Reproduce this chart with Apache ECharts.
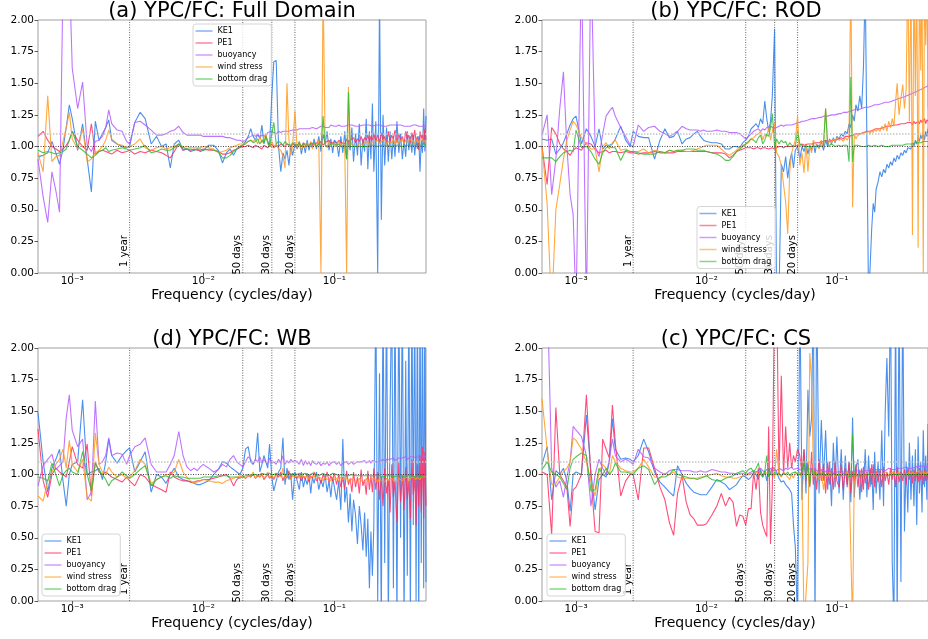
<!DOCTYPE html>
<html><head><meta charset="utf-8">
<script src="https://cdn.jsdelivr.net/npm/echarts@6/dist/echarts.min.js"></script>
<style>html,body{margin:0;padding:0;background:#fff}#c{width:928px;height:639px}</style>
</head><body><div id="c"></div>
<script>
// Frequency grid (cycles/day)
const freq = [0.000548,0.0006,0.00065,0.0007,0.00075,0.0008,0.00085,0.0009,0.00095,0.001,0.0011,0.0012,0.0013,0.0014,0.0015,0.0016,0.0017,0.0018,0.0019,0.002,0.0022,0.0024,0.0026,0.00274,
0.003,0.0033,0.0036,0.004,0.0044,0.0048,0.0052,0.0056,0.006,0.0065,0.007,0.0075,0.008,0.0085,0.009,0.0095,0.01,0.011,0.012,0.013,0.014,0.015,0.016,0.017,0.018,0.019,0.02,
0.021,0.022,0.023,0.024,0.025,0.026,0.027,0.028,0.029,0.03,0.031,0.032,0.0333,0.0345,0.036,0.0375,0.039,0.0405,0.042,0.0435,0.045,0.0465,0.048,0.05,
0.052,0.054,0.056,0.058,0.06,0.062,0.064,0.066,0.068,0.07,0.073,0.076,0.079,0.082,0.085,0.088,0.091,0.094,0.097,0.1,
0.104,0.108,0.112,0.116,0.12,0.124,0.128,0.132,0.136,0.14,0.145,0.15,0.155,0.16,0.165,0.17,0.175,0.18,0.185,0.19,0.195,0.2,
0.207,0.214,0.221,0.228,0.235,0.242,0.25,0.258,0.266,0.274,0.282,0.29,0.3,0.31,0.32,0.33,0.34,0.35,0.36,0.37,0.38,0.39,0.4,0.41,0.42,0.43,0.44,0.45,0.46,0.47,0.48,0.49,0.5];

const seriesNames = ['KE1','PE1','buoyancy','wind stress','bottom drag'];
const periodDays = [365, 50, 30, 20];
const periodLabels = ['1 year','50 days','30 days','20 days'];
const periodLabelLevel = 0.3;   // y value where the period labels end

// ---- (a) Full Domain ----
const keA = [0.92,0.93,0.95,1.04,0.95,0.86,0.98,1.15,1.33,1.22,0.97,1.18,0.90,0.64,1.20,1.05,1.10,1.15,1.21,1.05,1.02,1.00,0.99,1.00,
1.19,1.27,1.22,1.02,1.08,1.00,1.02,0.83,1.02,1.05,0.97,0.98,0.96,0.97,0.98,0.96,0.97,1.01,1.01,0.97,0.87,0.95,0.98,0.93,0.98,1.00,1.01,
1.04,1.08,1.14,1.08,1.05,1.10,1.06,1.17,1.02,1.08,1.04,1.00,1.40,1.67,1.68,1.00,0.80,0.95,0.90,0.97,0.85,1.00,0.93,1.02,
0.98,1.04,0.94,1.02,0.95,1.05,0.97,1.03,0.99,1.06,0.98,1.08,0.96,1.10,1.02,1.12,0.97,1.06,0.95,1.05,
1.03,0.92,1.08,0.95,1.12,0.90,1.05,0.97,1.15,0.88,1.10,0.93,1.18,0.85,1.06,0.96,1.22,0.82,1.12,0.90,1.34,0.80,
1.20,0.0,2.2,0.42,1.25,0.85,1.15,0.88,1.12,0.90,1.08,0.92,1.20,0.95,1.10,0.90,1.05,0.92,1.12,0.97,1.08,0.95,1.10,0.93,1.05,0.98,1.08,0.80,1.05,0.95,1.30,0.96,1.24];
const peA = [1.08,1.12,1.05,1.00,0.98,0.96,0.98,1.01,1.05,1.12,1.05,1.00,0.97,1.18,0.94,0.96,0.97,0.96,0.95,0.94,0.97,0.95,0.96,0.97,
0.94,0.96,0.95,0.97,0.96,0.95,0.93,0.91,0.96,1.02,0.97,0.98,0.97,0.98,0.97,0.97,0.98,0.97,0.97,0.96,0.94,0.94,0.95,0.97,0.98,0.99,1.00,
1.00,1.01,1.00,0.99,1.01,1.00,0.99,0.98,1.01,1.00,0.99,1.00,1.02,0.99,1.01,1.00,1.02,1.01,1.00,1.02,1.01,1.00,1.02,1.01,
1.01,1.02,1.00,1.03,1.01,1.02,1.00,1.03,1.02,1.01,1.03,1.02,1.04,1.01,1.03,1.02,1.05,1.02,1.03,1.04,
1.02,1.05,1.03,1.04,1.02,1.06,1.03,1.05,1.04,1.07,1.03,1.06,1.04,1.08,1.03,1.07,1.05,1.09,1.04,1.08,1.05,1.10,
1.04,1.09,1.03,1.11,1.05,1.08,1.02,1.12,1.04,1.09,1.06,1.13,1.03,1.10,1.05,1.08,1.02,1.12,1.06,1.09,1.03,1.11,1.05,1.13,1.04,1.08,0.97,1.12,1.06,1.10,1.02,1.14,1.05];
const buoyA = [0.90,0.60,0.40,0.80,0.65,0.48,2.3,2.5,2.4,1.62,1.30,1.51,1.01,0.96,1.04,1.05,1.08,1.15,1.29,1.18,1.13,1.12,1.04,1.02,
1.19,1.20,1.17,1.13,1.09,1.09,1.10,1.12,1.13,1.16,1.11,1.09,1.09,1.09,1.09,1.09,1.08,1.08,1.08,1.08,1.08,1.07,1.07,1.06,1.05,1.05,1.04,
1.05,1.07,1.08,1.09,1.08,1.10,1.07,1.09,1.10,1.08,1.11,1.10,1.12,1.11,1.10,1.12,1.11,1.12,1.12,1.13,1.12,1.13,1.13,1.13,
1.13,1.14,1.14,1.13,1.14,1.15,1.14,1.15,1.15,1.16,1.14,1.15,1.16,1.16,1.15,1.16,1.15,1.17,1.16,1.16,
1.16,1.17,1.16,1.17,1.16,1.16,1.17,1.16,1.17,1.17,1.16,1.17,1.16,1.17,1.17,1.16,1.17,1.16,1.17,1.17,1.16,1.17,
1.17,1.16,1.17,1.17,1.16,1.17,1.16,1.17,1.17,1.16,1.17,1.16,1.17,1.16,1.17,1.17,1.16,1.17,1.16,1.17,1.16,1.16,1.17,1.16,1.17,1.16,1.16,1.17,1.16,1.17,1.16,1.17,1.16];
const windA = [0.95,0.80,1.40,0.88,0.92,0.93,1.04,1.15,1.27,1.06,0.98,1.14,0.88,0.90,0.95,0.97,1.00,1.05,1.13,1.06,1.02,1.01,0.99,1.00,
1.02,1.06,0.99,0.97,0.99,1.00,0.98,0.99,1.00,1.02,0.99,1.00,0.99,0.99,0.99,0.99,1.00,0.99,0.98,0.95,0.96,0.97,0.99,1.00,1.01,1.02,1.02,
1.03,1.04,1.05,1.04,1.06,1.02,1.08,1.03,1.07,1.10,1.02,1.00,1.04,1.00,1.02,0.98,0.97,0.92,0.83,1.50,1.05,0.93,1.00,1.28,
0.98,1.04,0.97,1.02,0.99,1.03,1.00,1.04,0.98,1.02,1.00,1.05,0.0,2.3,1.02,0.99,1.04,1.01,1.03,1.00,
1.02,1.04,1.01,1.03,1.00,0.0,1.47,1.00,1.03,1.01,1.02,1.00,1.03,1.02,1.01,1.03,1.02,1.04,1.01,1.03,1.02,1.04,
1.03,1.05,1.02,1.04,1.03,1.06,1.02,1.04,1.05,1.03,1.06,1.02,1.05,1.03,1.04,1.06,1.02,1.05,1.03,1.04,1.06,1.03,1.05,1.02,1.04,1.06,1.03,1.05,1.04,1.07,1.03,1.05,1.04];
const dragA = [0.97,0.95,0.96,0.95,0.94,0.95,0.96,0.98,1.05,1.12,1.00,0.97,0.94,0.91,0.93,0.96,0.97,0.99,0.96,0.97,0.98,0.99,0.98,0.97,
0.98,0.99,1.01,0.95,0.96,0.98,0.97,0.97,0.99,1.02,0.99,0.98,0.98,0.97,0.98,0.98,0.97,0.98,0.97,0.96,0.91,0.91,0.93,0.96,0.98,1.00,1.01,
1.02,1.04,1.05,1.03,1.04,1.06,1.02,1.05,1.03,1.08,1.04,1.00,1.10,1.19,1.02,1.04,1.03,1.01,1.04,1.02,1.03,1.01,1.03,1.02,
1.01,1.03,1.00,1.02,1.01,1.02,1.00,1.02,1.01,1.03,1.00,1.02,1.00,1.24,1.01,1.02,1.00,1.02,1.01,1.02,
1.01,1.02,1.00,1.01,1.01,0.90,1.43,1.00,1.01,1.00,1.01,1.00,1.01,1.00,1.01,1.00,1.01,1.00,1.00,1.01,1.00,1.01,
1.01,1.00,1.01,1.01,1.00,1.01,1.00,1.01,1.02,1.00,1.01,1.01,1.00,1.01,1.02,1.00,1.01,1.01,1.00,1.01,1.02,1.01,1.00,1.01,1.02,1.01,1.00,1.01,1.02,1.01,1.01,1.02,1.01];

// ---- (b) ROD ----
const keB = [1.06,1.05,1.06,0.94,0.98,1.03,1.10,1.17,1.22,1.24,1.02,1.14,1.08,1.00,1.14,0.98,1.01,1.01,1.02,1.06,1.16,1.05,1.00,1.12,
1.08,1.07,1.07,0.90,1.05,1.14,1.07,1.08,1.12,1.02,1.06,1.07,1.10,1.12,1.08,1.05,1.04,1.03,1.03,1.02,0.98,0.98,1.00,1.00,0.99,1.03,1.05,
1.08,1.14,1.16,1.18,1.15,1.22,1.18,1.36,1.22,1.12,1.20,1.40,1.93,-0.2,-0.2,0.86,0.80,0.92,0.75,0.88,0.95,0.83,0.97,1.00,
0.90,1.00,0.96,1.02,0.94,1.01,0.97,1.03,0.95,1.02,0.99,1.04,0.97,1.05,1.00,1.06,1.02,1.07,1.03,1.08,
1.06,1.10,1.08,1.12,1.10,1.18,1.15,1.25,1.20,1.33,1.28,1.40,1.30,1.63,2.3,2.3,-0.2,0.05,0.35,0.55,0.48,0.66,
0.72,0.80,0.76,0.82,0.79,0.86,0.83,0.88,0.85,0.91,0.88,0.93,0.90,0.95,0.93,0.97,0.95,0.99,1.00,0.98,1.03,1.00,1.05,1.02,1.07,1.04,1.09,1.06,1.11,1.05,1.12,1.08,1.14];
const peB = [1.00,0.70,1.15,1.10,1.02,0.98,0.96,0.93,0.97,0.99,0.97,1.03,1.02,0.98,0.95,0.96,0.97,0.95,0.96,0.96,0.95,0.96,0.95,0.95,
0.94,0.95,0.95,0.96,0.95,0.95,0.95,0.95,0.96,0.96,0.96,0.96,0.96,0.96,0.96,0.96,0.96,0.95,0.95,0.95,0.94,0.91,0.93,0.96,0.97,0.98,0.99,
0.99,0.99,0.98,0.99,0.99,0.98,0.99,0.99,0.98,0.98,0.99,0.99,0.98,0.99,1.00,1.00,0.99,1.00,1.00,1.01,1.00,1.01,1.00,1.01,
1.01,1.02,1.01,1.02,1.02,1.03,1.02,1.03,1.03,1.04,1.03,1.04,1.04,1.05,1.04,1.05,1.05,1.06,1.05,1.06,
1.06,1.07,1.06,1.08,1.07,1.08,1.08,1.09,1.08,1.10,1.09,1.10,1.10,1.11,1.10,1.12,1.11,1.12,1.12,1.13,1.12,1.14,
1.13,1.14,1.14,1.15,1.14,1.16,1.15,1.16,1.16,1.17,1.16,1.17,1.17,1.18,1.17,1.18,1.18,1.19,1.18,1.19,1.17,1.20,1.18,1.19,1.20,1.18,1.21,1.19,1.20,1.22,1.18,1.21,1.20];
const buoyB = [1.09,1.25,0.62,0.90,1.30,1.59,1.00,0.62,0.46,-0.3,2.5,-0.3,2.5,1.00,0.92,1.10,1.24,1.28,1.31,1.24,1.15,1.08,1.01,1.00,
1.17,1.12,1.15,1.16,1.12,1.10,1.08,1.10,1.12,1.16,1.14,1.13,1.13,1.13,1.12,1.13,1.12,1.12,1.13,1.12,1.12,1.11,1.11,1.11,1.10,1.08,1.06,
1.08,1.10,1.12,1.13,1.14,1.12,1.14,1.13,1.15,1.14,1.16,1.15,1.14,1.15,1.16,1.17,1.16,1.17,1.17,1.18,1.17,1.18,1.18,1.19,
1.19,1.20,1.20,1.21,1.21,1.21,1.22,1.22,1.22,1.23,1.23,1.23,1.24,1.24,1.24,1.25,1.25,1.25,1.25,1.26,
1.26,1.26,1.27,1.27,1.27,1.28,1.28,1.28,1.29,1.29,1.29,1.30,1.30,1.30,1.31,1.31,1.31,1.32,1.32,1.32,1.33,1.33,
1.33,1.34,1.34,1.34,1.35,1.35,1.35,1.36,1.36,1.36,1.37,1.37,1.38,1.38,1.39,1.39,1.40,1.40,1.41,1.41,1.42,1.42,1.43,1.43,1.44,1.44,1.45,1.45,1.46,1.46,1.47,1.47,1.48];
const windB = [1.00,0.55,-0.3,0.50,0.70,0.90,1.05,1.13,1.20,1.17,1.07,1.02,0.98,0.98,0.80,1.00,1.03,0.98,1.03,1.05,0.97,0.98,0.96,0.96,
0.96,0.98,0.95,0.97,0.96,0.95,0.97,0.96,0.97,0.97,0.96,0.96,0.97,0.98,0.99,1.00,1.01,1.01,1.01,0.98,0.95,0.93,0.95,0.97,1.00,1.01,1.02,
1.03,1.06,1.07,1.09,1.10,1.12,1.05,1.10,1.08,1.15,1.05,1.12,1.19,0.95,0.92,0.85,0.70,0.56,0.31,0.80,0.95,1.00,1.05,1.24,
0.85,0.95,0.79,1.02,0.80,1.00,0.95,1.05,1.03,1.02,0.98,1.05,1.00,1.30,1.02,1.05,1.03,1.06,1.04,1.07,
1.05,1.06,1.04,1.07,1.05,1.08,2.4,0.52,1.10,1.06,1.09,1.08,1.10,1.09,1.11,1.10,1.12,1.10,1.13,1.11,1.14,1.12,
1.14,1.12,1.16,1.13,1.18,1.12,1.20,1.15,1.22,1.16,1.35,1.50,1.25,1.38,1.49,1.30,1.45,2.4,1.2,2.4,0.3,2.4,1.4,2.4,0.2,2.4,1.6,2.4,0.0,2.4,1.8,2.4,1.3];
const dragB = [0.91,0.91,0.91,0.88,0.92,0.95,0.96,0.97,0.96,1.13,0.99,1.00,0.96,0.90,0.86,0.95,0.99,1.00,0.99,0.99,0.89,0.97,0.96,0.96,
0.95,0.94,0.94,0.94,0.96,0.95,0.97,0.96,0.97,0.97,0.98,0.98,0.98,0.97,0.97,0.97,0.96,0.95,0.94,0.92,0.89,0.89,0.92,0.96,0.98,1.00,1.02,
1.04,1.06,1.05,1.03,1.07,1.09,1.02,1.05,1.10,1.08,1.15,1.26,1.00,1.06,1.02,1.05,1.03,1.04,1.00,1.03,1.01,1.02,1.00,1.12,
1.02,1.01,1.00,1.01,1.00,1.01,1.00,1.01,1.00,1.00,1.01,1.00,1.01,1.30,1.00,1.01,1.02,1.01,1.00,1.01,
1.01,1.00,1.01,1.00,1.01,0.88,1.55,0.88,1.01,1.00,1.01,1.00,1.00,1.01,1.00,1.00,1.01,1.00,1.00,1.00,1.01,1.00,
1.00,1.00,1.01,1.00,1.00,1.01,1.00,1.01,1.01,1.00,1.01,1.01,1.01,1.02,1.01,1.01,1.02,1.01,1.02,1.02,1.02,1.02,1.03,1.02,1.03,1.03,1.03,1.03,1.04,1.03,1.04,1.04,1.04];

// ---- (d) WB ----
const keD = [1.49,1.10,0.86,1.05,1.12,1.20,0.95,0.75,1.00,1.08,1.10,1.59,1.00,1.02,1.03,1.05,0.96,1.10,1.28,1.15,1.09,1.15,1.19,1.21,
1.02,1.10,1.18,0.86,1.00,0.98,0.93,1.00,1.05,0.98,0.96,0.95,0.94,0.93,0.92,0.92,0.93,0.95,1.00,1.04,1.10,1.09,1.06,1.04,1.02,1.00,1.05,
1.20,1.22,1.10,1.08,1.12,1.33,1.02,1.08,1.15,1.10,1.05,1.24,0.98,0.87,0.95,1.02,1.05,1.29,0.92,1.05,0.96,1.00,0.80,1.02,
0.95,0.88,1.02,0.90,0.97,0.92,1.00,0.85,0.98,0.93,1.02,0.88,0.96,0.90,1.00,0.86,0.95,0.82,0.98,0.90,
0.80,0.95,0.72,1.28,0.78,0.90,0.62,0.85,0.55,0.80,0.68,0.45,0.75,0.60,0.40,0.70,0.35,0.65,0.10,0.55,0.20,0.60,
2.5,0.0,1.8,-0.2,2.5,0.3,2.5,-0.2,1.5,2.5,0.1,2.5,-0.2,2.5,0.5,2.5,-0.2,1.9,0.2,2.5,-0.2,2.5,0.6,2.5,0.0,2.5,-0.2,2.5,0.3,2.5,0.1,2.5,0.15];
const peD = [1.36,0.95,0.82,1.00,1.05,1.02,1.00,0.98,1.10,1.22,1.08,1.05,1.24,0.83,1.10,1.02,1.00,1.02,1.00,0.98,0.96,0.94,0.98,0.95,
0.91,1.00,0.98,0.92,0.90,0.88,0.86,1.02,0.98,0.96,0.95,0.95,0.94,0.94,0.95,0.95,0.96,0.96,0.97,0.98,0.99,1.00,0.97,0.91,0.96,0.98,0.99,
0.97,0.99,0.98,1.00,0.97,0.99,0.98,1.00,0.96,0.98,1.00,0.97,0.99,0.96,1.01,0.98,1.02,0.95,1.00,0.97,1.03,0.96,1.01,0.98,
0.97,1.00,0.95,0.99,0.96,1.01,0.94,0.99,0.97,1.02,0.95,0.98,0.93,1.00,0.96,1.02,0.94,0.99,0.95,1.01,
0.92,1.00,0.90,0.98,0.88,1.03,0.92,0.97,0.86,1.02,0.90,0.98,0.85,1.04,0.91,0.96,0.84,1.03,0.88,0.99,0.86,1.05,
0.88,1.02,0.80,0.98,0.75,1.05,0.85,0.96,0.70,1.08,0.82,0.95,0.62,1.10,0.78,1.00,0.72,1.06,0.80,0.95,0.65,1.12,0.84,0.98,0.60,1.08,0.75,1.15,0.70,1.22,0.65,1.18,0.75];
const buoyD = [0.91,1.07,1.12,1.16,1.04,1.07,1.10,1.45,1.63,1.35,1.22,1.28,0.80,0.86,1.58,1.08,1.10,1.15,1.29,1.15,1.17,1.16,1.08,1.15,
1.22,1.24,1.29,1.08,1.02,1.02,1.02,1.08,1.15,1.34,1.15,1.06,1.03,1.05,1.03,1.06,1.08,1.05,1.02,1.04,1.08,1.06,1.12,1.15,1.10,1.08,1.06,
1.10,1.14,1.12,1.08,1.12,1.10,1.14,1.09,1.12,1.10,1.08,1.13,1.09,1.10,1.08,1.12,1.09,1.15,1.08,1.11,1.09,1.12,1.10,1.11,
1.10,1.08,1.12,1.07,1.11,1.08,1.10,1.07,1.11,1.09,1.08,1.10,1.07,1.09,1.08,1.10,1.07,1.09,1.08,1.10,
1.08,1.10,1.07,1.09,1.08,1.10,1.08,1.09,1.10,1.08,1.09,1.10,1.09,1.10,1.09,1.11,1.09,1.10,1.11,1.09,1.11,1.10,
1.10,1.11,1.10,1.11,1.12,1.10,1.12,1.11,1.12,1.11,1.13,1.11,1.12,1.13,1.12,1.13,1.12,1.14,1.12,1.13,1.14,1.13,1.14,1.15,1.13,1.14,1.15,1.14,1.15,1.16,1.14,1.15,1.14];
const windD = [0.83,0.79,0.95,1.02,1.08,1.12,1.20,1.05,1.27,1.08,1.02,1.12,0.82,0.79,1.33,1.08,1.02,1.00,1.06,1.02,0.98,1.00,0.97,0.98,
1.03,1.12,1.08,0.93,0.96,0.98,1.00,1.00,1.02,1.12,1.02,0.98,0.95,0.93,0.94,0.95,0.96,0.95,0.94,0.94,0.93,0.95,0.96,0.97,0.98,0.99,0.98,
0.97,0.99,0.98,1.02,0.97,1.00,0.98,1.01,0.97,0.99,1.02,0.98,1.00,0.97,0.99,1.01,0.98,1.05,0.97,0.99,1.01,0.96,0.99,0.98,
0.99,0.97,1.00,0.98,0.97,0.99,0.96,0.98,0.97,0.99,0.96,0.98,0.97,0.95,0.98,0.96,0.97,0.95,0.98,0.96,
0.97,0.95,0.98,0.96,0.95,0.97,0.96,0.94,0.97,0.95,0.96,0.94,0.97,0.95,0.96,0.94,0.97,0.95,0.94,0.96,0.95,0.97,
0.96,0.94,0.97,0.95,0.96,0.94,0.97,0.95,0.96,0.97,0.95,0.96,0.94,0.97,0.96,0.95,0.97,0.96,0.98,0.95,0.97,0.96,0.98,0.97,0.96,0.98,0.97,0.96,0.98,0.97,0.98,0.97,0.98];
const dragD = [0.98,0.97,0.95,1.09,1.00,0.91,1.00,1.03,1.05,1.02,1.00,1.18,1.00,0.87,1.09,1.03,1.00,0.96,0.91,0.95,0.98,1.02,0.99,0.97,
1.00,1.04,1.07,0.91,0.96,0.98,0.99,0.97,0.99,0.98,0.98,0.97,0.97,0.97,0.97,0.97,0.98,0.98,0.98,0.99,0.99,0.99,0.98,0.98,0.98,0.97,0.98,
0.99,1.00,0.99,1.00,1.00,0.99,1.00,1.01,1.00,1.00,0.99,1.01,1.00,1.00,1.01,1.00,0.99,1.01,1.00,1.00,1.01,1.00,1.00,1.01,
1.00,1.01,1.00,1.00,1.01,1.00,0.99,1.00,1.01,1.00,1.00,0.99,1.00,1.01,1.00,1.00,0.99,1.00,1.01,1.00,
1.00,0.99,1.00,1.00,0.99,1.00,0.99,0.99,1.00,0.99,0.99,0.99,0.99,0.99,0.99,0.99,0.99,0.99,0.99,0.99,0.99,0.99,
0.99,0.98,0.99,0.99,0.98,0.99,0.99,0.98,0.99,0.99,0.98,0.99,0.99,0.98,0.99,0.99,0.98,0.99,0.99,0.98,0.99,0.99,0.98,0.99,0.99,0.98,0.99,0.99,0.98,0.99,0.99,0.98,0.99];

// ---- (c) CS ----
const keC = [1.08,1.22,0.80,1.03,1.00,1.05,0.95,0.71,1.00,1.02,1.00,1.47,1.02,0.72,0.96,1.00,0.98,1.10,1.44,1.20,1.12,1.13,1.12,1.10,
1.15,1.28,1.18,1.02,0.94,0.90,0.86,0.83,1.07,1.00,0.93,0.89,0.86,0.85,0.84,0.84,0.84,0.90,0.96,0.94,0.92,0.88,0.90,0.92,0.96,0.99,0.98,
0.96,0.98,1.02,1.00,0.96,1.04,0.98,1.03,0.95,1.05,1.00,1.06,1.04,1.02,0.97,0.94,0.95,0.92,0.90,0.88,0.85,0.60,0.43,-0.2,
2.5,0.80,1.20,0.85,1.67,1.30,1.45,2.5,-0.2,2.5,0.85,1.43,0.95,1.35,0.88,1.10,0.75,1.25,0.90,1.30,
0.85,1.20,0.80,1.15,0.90,1.10,0.78,1.45,0.82,1.05,1.12,0.80,1.05,0.88,1.20,0.82,1.15,0.90,1.08,0.72,1.18,0.85,
1.10,0.80,1.35,0.75,1.50,1.92,1.30,2.5,0.30,-0.2,2.5,-0.2,2.5,0.15,2.5,0.55,1.10,0.70,1.25,0.80,1.15,0.75,1.20,0.60,1.30,0.85,1.10,0.70,1.35,0.90,1.15,0.80,1.40];
const peC = [1.02,1.00,0.52,1.53,1.00,0.95,0.90,0.59,0.88,0.90,1.00,1.63,0.98,0.55,0.54,1.28,1.20,1.13,1.55,1.25,0.83,0.95,1.00,1.00,
0.80,1.21,1.21,1.05,0.90,0.80,0.62,0.52,0.85,0.99,0.78,0.68,0.65,0.60,0.60,0.60,0.61,0.68,0.75,0.85,0.75,0.82,0.78,0.59,0.68,0.67,0.60,
0.73,0.73,1.02,0.88,1.05,0.70,0.60,0.55,0.51,1.38,0.45,0.90,2.5,2.5,1.00,1.78,1.00,1.38,1.05,1.25,1.05,1.15,1.10,1.20,
1.15,1.00,1.20,0.95,1.10,0.90,1.18,0.92,1.05,0.88,1.12,0.95,1.08,0.85,1.10,0.92,1.05,0.88,1.10,0.95,
0.90,1.08,0.88,1.05,0.92,1.10,0.85,1.02,0.95,1.08,0.90,1.04,0.86,1.06,0.93,1.02,0.88,1.05,0.92,1.08,0.90,1.03,
0.94,1.04,0.90,1.06,0.95,1.02,0.92,1.05,0.96,1.03,0.90,1.06,0.94,1.02,0.95,1.04,0.92,1.05,0.96,1.03,0.93,1.04,0.95,1.02,0.94,1.05,0.96,1.03,0.92,1.04,0.95,1.02,0.96];
const buoyC = [2.5,2.5,1.05,0.90,0.95,0.82,0.98,1.10,1.38,1.35,1.30,1.15,0.75,1.00,1.12,1.05,1.00,1.12,1.28,1.15,1.10,1.12,1.10,1.08,
1.20,1.14,1.13,1.05,1.02,1.00,1.03,1.04,1.04,1.03,1.03,1.03,1.02,1.02,1.03,1.02,1.02,1.04,1.03,1.02,1.02,1.01,1.01,1.00,1.01,1.01,1.00,
1.01,1.02,1.03,1.02,1.03,1.05,1.03,1.02,1.04,1.03,1.05,1.02,1.04,1.03,1.05,1.04,1.03,1.05,1.04,1.03,1.06,1.04,1.03,1.05,
1.04,1.03,1.05,1.02,1.04,1.03,1.05,1.02,1.04,1.03,1.02,1.04,1.03,1.02,1.04,1.03,1.02,1.03,1.02,1.03,
1.02,1.03,1.02,1.03,1.02,1.03,1.02,1.03,1.03,1.02,1.03,1.03,1.02,1.03,1.03,1.04,1.03,1.03,1.04,1.03,1.04,1.04,
1.04,1.03,1.04,1.04,1.03,1.04,1.05,1.04,1.04,1.05,1.04,1.05,1.05,1.04,1.05,1.05,1.06,1.05,1.05,1.06,1.05,1.06,1.06,1.05,1.06,1.06,1.07,1.06,1.06,1.07,1.06,1.07,1.07];
const windC = [1.60,1.20,0.92,0.93,0.98,1.02,1.05,1.10,1.29,1.27,1.20,1.10,0.95,0.83,1.02,1.08,1.05,1.00,1.15,1.10,1.05,1.03,1.02,1.02,
1.05,1.12,1.06,0.98,0.97,1.01,1.00,1.02,0.98,0.97,0.97,0.97,0.97,0.97,0.98,0.98,0.99,1.00,1.01,0.99,0.98,0.98,0.97,0.97,0.98,0.99,0.99,
1.00,1.01,1.00,1.02,1.00,1.01,1.00,1.02,1.01,1.00,1.03,1.02,0.98,1.20,1.00,0.98,1.02,1.00,0.98,0.96,1.00,0.97,1.02,1.00,
1.02,0.95,-0.2,-0.2,0.30,1.96,1.75,1.05,0.98,1.02,0.96,1.04,0.88,1.00,0.98,1.02,0.99,1.01,0.98,1.00,
1.00,1.01,0.99,1.00,1.02,0.99,1.00,-0.2,1.00,1.01,0.99,1.00,1.01,0.99,1.00,1.01,1.00,0.99,1.01,1.00,0.99,1.01,
1.00,1.01,0.99,1.01,1.00,1.02,0.99,1.01,1.00,1.02,1.00,1.01,1.02,0.99,1.01,1.02,1.00,1.01,1.02,1.00,1.02,1.01,1.00,1.02,1.01,1.03,1.00,1.02,1.01,1.02,1.00,1.02,1.01];
const dragC = [1.04,1.10,1.02,1.00,0.98,0.93,0.88,1.05,1.12,1.14,1.17,1.15,0.87,0.88,1.05,1.00,1.05,1.00,1.03,1.09,1.02,1.02,1.01,1.00,
1.05,1.07,1.04,0.92,0.98,0.98,1.00,1.04,1.00,0.99,0.98,0.97,0.97,0.96,0.97,0.98,0.99,0.96,0.95,0.95,0.97,0.98,0.99,1.01,1.02,1.03,1.01,
1.04,1.05,1.02,1.05,1.09,1.00,0.98,1.02,1.15,0.98,1.01,0.99,1.02,1.00,1.01,0.99,1.01,1.00,1.02,0.99,1.01,1.00,1.02,1.00,
1.00,1.02,1.12,0.97,1.08,0.91,1.05,1.00,1.02,0.99,1.01,1.00,1.02,0.99,1.01,1.00,0.99,1.01,1.00,0.99,
1.00,0.99,1.01,1.00,0.99,1.00,0.98,1.32,0.99,1.00,0.99,1.00,0.99,1.00,0.99,0.99,1.00,0.99,0.99,1.00,0.99,1.00,
0.99,1.00,0.99,1.00,0.99,1.00,0.99,1.00,1.00,0.99,1.00,0.99,1.00,1.00,0.99,1.00,1.00,0.99,1.00,1.00,1.00,0.99,1.00,1.00,1.00,1.00,0.99,1.00,1.00,1.00,1.00,1.00,1.00];

const FONT = 'DejaVu Sans';
const colors = ['#2b7de9','#ff2e63','#b45cff','#ff9a1f','#33bb33'];
const PW = 388, PH = 253;
const panels = [
  {title:'(a) YPC/FC: Full Domain', left:38,  top:20,  legend:{left:193, top:24},    vals:[keA,peA,buoyA,windA,dragA]},
  {title:'(b) YPC/FC: ROD',         left:542, top:20,  legend:{left:697, top:206.5}, vals:[keB,peB,buoyB,windB,dragB]},
  {title:'(d) YPC/FC: WB',          left:38,  top:348, legend:{left:42,  top:534},   vals:[keD,peD,buoyD,windD,dragD]},
  {title:'(c) YPC/FC: CS',          left:542, top:348, legend:{left:547, top:534},   vals:[keC,peC,buoyC,windC,dragC]}
];

const supMap = {'-':'\u207B','0':'\u2070','1':'\u00B9','2':'\u00B2','3':'\u00B3','4':'\u2074','5':'\u2075','6':'\u2076','7':'\u2077','8':'\u2078','9':'\u2079'};
function powLabel(v){
  const e = Math.log10(v), r = Math.round(e);
  if (Math.abs(e - r) > 1e-6) return '';
  return '10' + String(r).split('').map(c => supMap[c]).join('');
}

const option = {animation:false, backgroundColor:'#fff', title:[], legend:[], grid:[], xAxis:[], yAxis:[], series:[]};
panels.forEach((p, k) => {
  option.title.push({text:p.title, left:p.left + PW/2, top:p.top - 19, textAlign:'center', padding:0,
    textStyle:{fontFamily:FONT, fontSize:21, fontWeight:'normal', color:'#000'}});
  option.grid.push({left:p.left, top:p.top, width:PW, height:PH, show:true, borderColor:'#a0a0a0', borderWidth:1, backgroundColor:'transparent', containLabel:false});
  option.xAxis.push({type:'log', logBase:10, gridIndex:k, min:freq[0], max:freq[freq.length-1],
    name:'Frequency (cycles/day)', nameLocation:'middle', nameGap:14.5,
    nameTextStyle:{fontFamily:FONT, fontSize:14, color:'#000'},
    axisLine:{show:false}, splitLine:{show:false}, minorTick:{show:false},
    axisTick:{show:true, length:3.5, lineStyle:{color:'#333', width:0.8}},
    axisLabel:{formatter:powLabel, fontFamily:FONT, fontSize:10.5, color:'#000', margin:3, showMinLabel:false, showMaxLabel:false}});
  option.yAxis.push({type:'value', gridIndex:k, min:0, max:2, interval:0.25,
    axisLine:{show:false}, splitLine:{show:false},
    axisTick:{show:true, length:3.5, lineStyle:{color:'#333', width:0.8}},
    axisLabel:{formatter:v => v.toFixed(2), fontFamily:FONT, fontSize:10.5, color:'#000', margin:4}});
  option.legend.push({data:seriesNames, left:p.legend.left, top:p.legend.top, orient:'vertical',
    icon:'rect', itemWidth:17, itemHeight:1.5, itemGap:4, padding:[3,4,3,2.5],
    backgroundColor:'rgba(255,255,255,0.8)', borderColor:'#d5d5d5', borderWidth:1, borderRadius:3,
    textStyle:{fontFamily:FONT, fontSize:8, color:'#000'}, itemStyle:{opacity:0.6}, selectedMode:false});

  // horizontal reference lines
  option.series.push({type:'line', xAxisIndex:k, yAxisIndex:k, data:[], silent:true, symbol:'none',
    markLine:{symbol:['none','none'], silent:true, animation:false, label:{show:false}, data:[
      {yAxis:1, lineStyle:{color:'#333', width:0.9, type:[1,1.5]}},
      {yAxis:1.1, lineStyle:{color:'#c4c4c4', width:1.6, type:[1.5,1.5]}}
    ]}});
  // vertical period lines
  periodDays.forEach(d => {
    option.series.push({type:'line', xAxisIndex:k, yAxisIndex:k, silent:true, symbol:'none', clip:false,
      data:[[1/d, 0], [1/d, 2]], lineStyle:{color:'#555', width:0.9, type:[1,1.5]}});
  });
  // period labels
  option.series.push({type:'scatter', xAxisIndex:k, yAxisIndex:k, silent:true, symbol:'circle', symbolSize:1,
    data:periodDays.map(d => [1/d, periodLabelLevel]),
    itemStyle:{color:'rgba(0,0,0,0)'},
    label:{show:true, position:'inside', rotate:90, align:'right', verticalAlign:'bottom', opacity:1,
      formatter:q => periodLabels[q.dataIndex], fontFamily:FONT, fontSize:10, color:'#000'}});

  p.vals.forEach((vals, s) => {
    option.series.push({type:'line', name:seriesNames[s], xAxisIndex:k, yAxisIndex:k,
      data:freq.map((f, i) => [f, vals[i]]), symbol:'none', showSymbol:false, silent:true, clip:true,
      color:colors[s], itemStyle:{color:colors[s]}, lineStyle:{width:1.1, color:colors[s], opacity:0.85}});
  });
});

const chart = echarts.init(document.getElementById('c'), null, {renderer:'canvas'});
chart.setOption(option);
</script>
</body></html>
